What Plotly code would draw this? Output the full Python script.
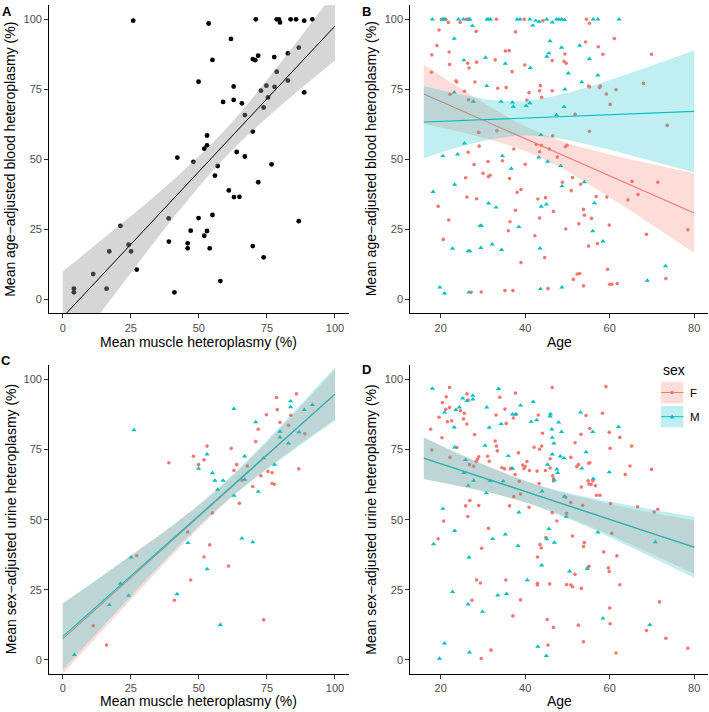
import plotly.graph_objects as go

W, H = 709, 712
def px(v): return v / W
def py(v): return 1 - v / H

F_COL = '#F8766D'
M_COL = '#00BFC4'
F_FILL = 'rgba(248,118,109,0.25)'
M_FILL = 'rgba(0,191,196,0.25)'
A_FILL = 'rgba(153,153,153,0.4)'

# ---------------- Panel A data ----------------
a_muscle = [25.9,53.6,70.9,78.6,79.4,79.8,83.7,85.7,88.7,91.7,
            61.8,55,69.8,70.7,71.8,77.7,82.7,86.7,
            49.9,62.8,72.8,74.8,77.8,78.6,82.7,88.7,
            58.9,62.8,65.8,75.4,73.8,66.9,69.8,
            53,53,52,42.1,48,56.9,63.9,66.9,76.7,
            55.9,71.8,61,62.9,64.9,
            38.9,49.9,55,47,53,52,45.9,45.9,54,39,69.8,73.8,86.7,
            21.2,24.2,17.1,25.1,27.2,11.2,16.1,4.1,4.1,57.9,41]
a_blood = [99.5,98.5,100,100,100,98.9,100,100,99.5,100,
           93,85.5,85.8,85.4,87,86.5,87.8,89.9,
           77.7,76,74.5,76.3,75.9,81.3,78.1,73.9,
           70.5,71.2,70,72.1,68.5,65.8,59.9,
           58.5,55,53.8,50.6,49.1,47.6,52.6,51,48.2,
           44.2,41.8,38.9,36.5,36.6,
           28.9,29,30.1,24.5,24.4,22.7,20,18.2,18.2,20.6,19,15,27.9,
           26.2,19.5,17.1,17.1,10.6,9,3.8,3.8,2.5,6.5,2.5]
# fitted lm and 95% CI
a_fit_x = [0, 20, 40, 60, 80, 100]
a_fit_y = [-6.4, 14.4, 35.2, 56.0, 76.8, 97.6]
a_fit_hi = [9.9, 25.8, 42.1, 60.9, 84.5, 109.9]
a_fit_lo = [-22.7, 3.0, 28.3, 51.1, 69.1, 85.3]

# ---------------- Panel B data ----------------
b_f_age = [20.2,20.6,21.2,26.1,26.5,33.2,39.8,54.5,21.8,24.6,44.2,55.2,19.6,28.4,37.7,
           17.9,19.1,22.0,22.1,26.4,26.7,28.5,32.9,35.3,36.2,36.9,39.9,46.4,49.4,49.2,49.7,54.3,57.3,58.4,61.1,69.9,
           17.8,23.6,23.8,28.1,35.5,25.6,22.2,26.6,40.4,40.9,43.4,43.6,43.9,46.4,55,55.2,57.6,57.8,59.2,60.1,61.5,68,33.5,
           51.8,46.5,33.3,29.0,55.2,73.6,
           29.1,26.5,27.9,30.0,31.2,31.3,31.7,25.9,34.6,37.3,36.3,40.0,42.6,43.4,43.8,45.7,47.6,49.5,49.9,51.2,48.8,53.1,38.1,39,
           19.4,26.2,28.5,37.7,43,44.8,46.7,43.4,50.9,53.8,54.0,56.8,59.3,64.3,65.3,66.7,71.4,
           55.7,59.9,52.7,36.4,36,49.6,21.9,42.3,44.6,39,20.6,57.1,55,68.7,78.5,
           59.5,51.4,52.3,52.9,53.8,60,60.5,61.8,73.3,27.2,29.6,35.2,37.1,45.4]
b_f_val = [100,100,100,100,100,100,100,100,98.9,98.9,99.5,98.6,96.2,95.7,95.5,
           87.3,90.6,88.3,83.9,84.3,82.6,84.7,85.5,88.7,88.8,81.3,83.7,85.3,87.6,85,84.3,91.9,90.2,87.5,93.1,87.5,
           81.1,78,77.6,77.6,75.6,74.3,73.2,71.3,71.2,73.8,74.5,76.3,72.1,74.5,76.2,75.9,75.6,76.2,73.3,69.6,74.8,77.1,75.4,
           66.1,58.4,60.2,59.6,60,62.1,
           54.7,52.5,48.1,45,49.2,43.8,44.3,43.4,49.5,53.7,43.1,48.2,55.3,52.7,55,53.7,50.8,54.5,55,43.5,41.8,41.1,38.2,39.2,
           33.2,36.5,35.9,31.8,35.8,36.3,31.4,29,38.8,32.1,30,36.7,36.5,35.5,42.1,37.4,41.8,
           28.9,26.5,27,27.7,24.5,25.1,28.3,22.7,14.9,13.1,21.4,19.9,19,23.2,24.8,
           10.7,7.1,9,9.2,4.8,5.4,5.4,5.6,7.4,2.5,2.6,3.1,3.1,3.8]
b_m_age = [18.0,20.5,20.9,24.2,25.4,26.7,26.9,31.0,31.3,31.8,38.1,38.8,41.1,45.1,47.4,48.0,48.6,49.3,56.1,57.2,62.2,
           42.5,43.3,46.4,27.5,41.8,
           23.2,25.5,30.6,35.3,41.2,45.9,45.1,45.6,48.6,50.2,52.9,55.2,
           30.9,23.2,27.7,34.3,37,37.2,40.2,41.1,49.4,53.4,57.2,49.2,47.4,43.7,
           18.2,20.5,25.6,24.0,34.6,36.7,43.2,45.3,48.4,48.7,54.0,23.3,
           31.3,33.1,45.0,43.8,56.4,38.5,29.3,29.6,43.5,32.2,34.4,29.5,26.5,26.9,22.8,56,58.4,
           68.9,73.2,19.8,20.9,26.7,43.6,48.7]
b_m_val = [100,100,100,100,100,100,100,100,100,100,100,100,100,100,100,100,100,99.8,100,100,100,
           99.5,99.2,98.9,97.7,97.8,
           93.1,85.4,86.3,84.2,82.7,92.2,86.7,87.9,89.9,80.7,90.6,85.9,
           76.2,73.9,70.6,70.6,70.3,68.8,69.1,70.1,75,77.6,80,68.7,65.8,58.7,
           38.4,51.2,55.7,51.8,51.2,46.7,50.7,49.2,47.7,40.4,41.9,41,
           34.3,32.8,33.9,33.1,34.4,25.9,26.2,26.3,18.2,19.6,17.7,18.4,17.2,17.2,18.1,24.4,20.7,
           6.7,11.9,4.3,2.1,2.5,3.7,4.3]
fit_age = [16, 24, 32, 40, 48, 56, 64, 72, 80]
b_f_fit = [73.3, 68.0, 62.7, 57.4, 52.1, 46.7, 41.4, 36.1, 30.8]
b_f_hi = [83.9, 76.0, 68.5, 61.8, 56.8, 53.2, 50.3, 47.6, 45.0]
b_f_lo = [62.7, 60.0, 56.9, 53.0, 47.4, 40.2, 32.6, 24.6, 16.6]
b_m_fit = [63.3, 63.8, 64.2, 64.7, 65.2, 65.6, 66.1, 66.6, 67.1]
b_m_hi = [76.2, 73.4, 71.2, 70.9, 73.0, 76.4, 80.4, 84.6, 88.9]
b_m_lo = [50.4, 54.2, 57.2, 58.5, 57.4, 54.8, 51.8, 48.6, 45.3]

# ---------------- Panel C data ----------------
c_f_muscle = [39.0,48,53,51.9,49.9,61.9,63.9,62.9,67.8,65.8,64.9,69.8,72.8,75.4,76.9,76.9,77.7,86.7,71.8,70.9,74.8,78.5,78.8,79.8,82.9,83.8,85.8,88.9,
              55,45.9,54,51.9,60.9,47,41,73.8,27.2,11.2,16.1]
c_f_urine = [70.3,72.6,76.2,71.3,69.6,75.4,69.6,67.5,69.1,64.1,55.8,61.8,65.6,67.2,66.7,62.9,62.6,68.1,82.2,77.8,87.4,93.5,89.2,84.7,83.6,87.2,94.8,80.6,
             52.4,45.6,41,36.7,33.5,28.5,21.3,14.3,37.2,12.2,5.3]
c_m_muscle = [26.2,53,49.9,55,55.9,58.9,56.9,62.9,66.8,66.8,62.9,71.8,77.8,73.8,70.9,79.8,79.8,82.9,83.7,83.7,86.8,88.7,91.7,
              46,53,65.8,69.8,42,57.9,25.1,21.2,24.2,17.1,4.3]
c_m_urine = [81.9,73.3,68.2,66.6,63.9,63.9,60.7,89.5,72.6,64.3,58.6,60,69.6,71.9,84.8,81.4,79.3,77.2,92.2,90.1,81.2,89.1,90.9,
             41.7,32.4,43.3,42,23.5,12.5,36.6,27.2,22.9,19.6,1.8]
c_fit_x = [0, 12.5, 25, 37.5, 50, 62.5, 75, 87.5, 100]
c_f_fit = [7.5, 18.4, 29.3, 40.2, 51.1, 62.0, 72.9, 83.8, 94.7]
c_f_hi = [20.0, 28.5, 37.2, 45.9, 55.2, 65.6, 77.6, 90.4, 103.5]
c_f_lo = [-5.0, 8.3, 21.5, 34.5, 47.0, 58.4, 68.2, 77.2, 85.9]
c_m_fit = [8.3, 19.1, 29.9, 40.7, 51.5, 62.3, 73.1, 83.9, 94.7]
c_m_hi = [20.2, 28.6, 37.2, 45.9, 55.3, 66.1, 78.3, 91.2, 104.2]
c_m_lo = [-3.6, 9.6, 22.6, 35.5, 47.7, 58.5, 67.9, 76.7, 85.2]

# ---------------- Panel D data ----------------
d_f_age = [22.1,17.6,17.9,19.6,20.4,21.2,22.1,21.3,21.6,22.6,20.3,24.7,25.6,25.4,26.2,26.5,26.2,23.8,22.2,28,28.7,29,28.4,27.8,26.8,25.9,26.4,26.9,29,
           20.7,19.4,29.7,31.3,28.5,29.4,27.4,
           33.1,34.0,35.2,35.5,32.9,33.2,33.4,31.1,31.5,34.5,35.1,36.5,36.8,37.6,37.3,38.9,37.7,37.2,37.8,38.4,36.3,39.4,40,39.7,40.9,40.4,41,43.1,42.1,43.4,43.9,44.1,43.3,42.8,44.8,45.9,45.9,46.5,46.7,46.7,46.4,46.4,47.5,49.6,49.8,50.8,50.8,51.8,51.2,52.2,52.6,53.3,53.6,53.2,54.4,55,55.3,54.9,55.1,55.6,56.6,56,55.3,56.9,57.7,53.8,58.6,58.3,59.1,59.9,60.1,60.2,60.5,61.7,62.4,63.7,64.8,65.2,66.6,69.9,70.5,71.4,
           54,54.8,55.1,53.3,50.8,51.2,51.8,49.8,45.8,45.2,46.7,52.6,53.8,60,60.1,59.9,59.7,62.4,68.7,71.8,73.3,78.5,45.4,42.9,42.9,43.5,43.8,42.9,44.9,38.9,37.1,35.4,38.6,29.6,31.9,61.5]
d_f_val = [97.1,82.2,74.8,86.5,91.7,89.3,90,93.8,84.9,85.2,79.2,88.8,87.9,85.9,94.8,92.6,84.1,75.7,72.2,80.3,71.5,72.4,70.7,69,69.6,54.9,51.1,56.8,55,
           49.5,43.2,39.8,46.9,28.5,27.4,21.3,
           87.3,93.6,89.4,84.3,78,76.2,74.5,72.6,70.8,68.5,68.1,68.1,68.3,66.1,58.2,59.1,95.1,86.2,87.6,73.8,54.9,69.5,68.9,68.2,54.4,70.7,67.5,87.3,75.8,75.1,76.2,80.8,62.9,67.3,67.5,68.4,71.7,65.6,64.6,63.8,97.1,52.5,49.5,58,52.3,56.1,72.2,77.4,44.2,68.9,69.6,61.6,55.1,80.4,87.1,70.1,70.3,63.8,62.7,62.5,62.1,63.8,82.5,58.7,58.7,40.4,38.5,87.9,97.4,81.1,75.4,55.7,45.1,37.1,79.3,66.1,69.1,76.2,54.6,67.9,52.7,53.7,
           41.8,32.8,33.4,25.5,26.7,26.1,30.5,26.9,27.1,14.4,11.6,12.4,6.5,18.5,12.9,31.5,32.8,26.8,10.5,20.7,7.7,4.2,5.3,27.3,26.7,41.1,39.9,36.7,43.6,21.4,15.7,28.5,63.7,0.5,3.5,2.5]
d_m_age = [18.0,20.9,23.2,23.6,24.4,25.2,26.2,27.6,27.6,23.3,25.9,25.5,27.8,26.5,20.5,23.3,18.3,26.7,32.3,35.3,22.8,26.5,29.9,20.9,
           30.9,33.7,31.5,34.3,30.5,31.7,30.8,34.8,36,37,37.8,38.9,38.5,37,41.4,41.9,42.7,45.3,44.0,45.9,46.0,46.3,46.4,46.8,46.4,46.9,47.5,47.7,47.9,48.6,48.3,49.2,49.3,49.7,53.1,53.4,54.4,56.1,56,57.2,59.9,62.1,70.8,
           54.7,50.5,58.4,69.5,43,43.9,45.1,45.6,46.9,40.5,33.5,35.6,38.3,19.7,26.8,45.0]
d_m_val = [96.7,88.2,82.9,89.1,90,93.2,92.3,92.9,94.2,75.8,71.3,66.7,63.9,62.1,53.9,46,41.3,36.6,43.2,44.8,24.3,19.8,17.2,5.9,
           90,96.6,82.8,84.1,76.4,63.8,59.5,63.7,72.7,87.5,87.5,90.7,52.6,68.2,84.9,92,85.5,69.6,60.1,86.8,87.6,82.2,79.2,77.2,73.3,64.1,67.9,66.7,84.7,81.3,72.6,71.9,58.2,51.1,88.2,68.3,74.1,64.6,81.3,45.5,66.9,83.1,42,
           32.5,31.6,14.8,12.5,4.8,33.7,43.1,46.7,41.8,28.5,23,23.6,40.7,0.5,2.7,1.5]
d_f_fit = [72.0, 68.0, 64.1, 60.1, 56.1, 52.2, 48.2, 44.2, 40.3]
d_f_hi = [79.3, 73.8, 68.6, 63.9, 60.0, 57.0, 54.3, 51.9, 49.7]
d_f_lo = [64.5, 62.0, 59.4, 56.1, 52.0, 47.2, 41.9, 36.3, 30.7]
d_m_fit = [71.9, 67.9, 64.0, 60.0, 56.0, 52.1, 48.1, 44.1, 40.2]
d_m_hi = [79.3, 73.6, 68.4, 63.8, 60.3, 57.6, 55.3, 53.1, 51.1]
d_m_lo = [64.5, 62.2, 59.6, 56.2, 51.7, 46.6, 40.9, 35.1, 29.3]

fig = go.Figure()

def ribbon(xa, ya, xs, lo, hi, fill):
    fig.add_trace(go.Scatter(x=xs, y=lo, mode='lines', line=dict(width=0, shape='spline'),
                             xaxis=xa, yaxis=ya, showlegend=False, hoverinfo='skip'))
    fig.add_trace(go.Scatter(x=xs, y=hi, mode='lines', line=dict(width=0, shape='spline'),
                             fill='tonexty', fillcolor=fill,
                             xaxis=xa, yaxis=ya, showlegend=False, hoverinfo='skip'))

def fitline(xa, ya, xs, ys, col, w=1.1):
    fig.add_trace(go.Scatter(x=xs, y=ys, mode='lines', line=dict(color=col, width=w),
                             xaxis=xa, yaxis=ya, showlegend=False))

def pts(xa, ya, xs, ys, col, sym, size):
    fig.add_trace(go.Scatter(x=xs, y=ys, mode='markers',
                             marker=dict(color=col, symbol=sym, size=size, line=dict(width=0)),
                             xaxis=xa, yaxis=ya, showlegend=False))

# Panel A
pts('x', 'y', a_muscle, a_blood, 'black', 'circle', 4.8)
ribbon('x', 'y', a_fit_x, a_fit_lo, a_fit_hi, A_FILL)
fitline('x', 'y', a_fit_x, a_fit_y, 'black', 1)

# Panel B
pts('x2', 'y2', b_f_age, b_f_val, F_COL, 'circle', 3.6)
pts('x2', 'y2', b_m_age, b_m_val, M_COL, 'triangle-up', 4.6)
ribbon('x2', 'y2', fit_age, b_f_lo, b_f_hi, F_FILL)
fitline('x2', 'y2', fit_age, b_f_fit, F_COL)
ribbon('x2', 'y2', fit_age, b_m_lo, b_m_hi, M_FILL)
fitline('x2', 'y2', fit_age, b_m_fit, M_COL)

# Panel C
pts('x3', 'y3', c_f_muscle, c_f_urine, F_COL, 'circle', 3.6)
pts('x3', 'y3', c_m_muscle, c_m_urine, M_COL, 'triangle-up', 4.6)
ribbon('x3', 'y3', c_fit_x, c_f_lo, c_f_hi, F_FILL)
fitline('x3', 'y3', c_fit_x, c_f_fit, F_COL)
ribbon('x3', 'y3', c_fit_x, c_m_lo, c_m_hi, M_FILL)
fitline('x3', 'y3', c_fit_x, c_m_fit, M_COL)

# Panel D
pts('x4', 'y4', d_f_age, d_f_val, F_COL, 'circle', 3.6)
pts('x4', 'y4', d_m_age, d_m_val, M_COL, 'triangle-up', 4.6)
ribbon('x4', 'y4', fit_age, d_f_lo, d_f_hi, F_FILL)
fitline('x4', 'y4', fit_age, d_f_fit, F_COL)
ribbon('x4', 'y4', fit_age, d_m_lo, d_m_hi, M_FILL)
fitline('x4', 'y4', fit_age, d_m_fit, M_COL)

FONT = 'Liberation Sans, Arial, sans-serif'
tickfont = dict(family=FONT, size=11, color='#4D4D4D')

def ax(domain, rng, tickvals, anchor):
    return dict(domain=domain, range=rng, tickvals=tickvals, anchor=anchor,
                showline=True, linecolor='black', linewidth=1, ticks='outside',
                ticklen=4, tickwidth=1, tickcolor='#333333', showgrid=False,
                zeroline=False, tickfont=tickfont, fixedrange=True)

xl = [px(49.1), px(348.6)]
xr = [px(410.3), px(707.7)]
yt = [py(313.3), py(5.3)]
yb = [py(674.0), py(365.3)]
pct = [0, 25, 50, 75, 100]
ages = [20, 40, 60, 80]

fig.update_layout(
    width=W, height=H, margin=dict(l=0, r=0, t=0, b=0),
    paper_bgcolor='white', plot_bgcolor='white', showlegend=False,
    xaxis=ax(xl, [-5, 105], pct, 'y'),
    yaxis=ax(yt, [-5, 105], pct, 'x'),
    xaxis2=ax(xr, [12.8, 83.2], ages, 'y2'),
    yaxis2=ax(yt, [-5, 105], pct, 'x2'),
    xaxis3=ax(xl, [-5, 105], pct, 'y3'),
    yaxis3=ax(yb, [-5, 105], pct, 'x3'),
    xaxis4=ax(xr, [12.8, 83.2], ages, 'y4'),
    yaxis4=ax(yb, [-5, 105], pct, 'x4'),
)

ann = []
def text(x, y, t, size=14, angle=0, bold=False, xanchor='center'):
    ann.append(dict(x=px(x), y=py(y), xref='paper', yref='paper', text=('<b>%s</b>' % t) if bold else t,
                    showarrow=False, textangle=angle, xanchor=xanchor, yanchor='middle',
                    font=dict(family=FONT, size=size, color='black')))

text(198.9, 341.5, 'Mean muscle heteroplasmy (%)')
text(198.9, 701, 'Mean muscle heteroplasmy (%)')
text(559, 341.5, 'Age')
text(559, 701, 'Age')
text(10.5, 159.3, 'Mean age\u2212adjusted blood heteroplasmy (%)', angle=-90)
text(371, 159.3, 'Mean age\u2212adjusted blood heteroplasmy (%)', angle=-90)
text(10.5, 519.7, 'Mean sex\u2212adjusted urine heteroplasmy (%)', angle=-90)
text(371, 519.7, 'Mean sex\u2212adjusted urine heteroplasmy (%)', angle=-90)
text(6.5, 11, 'A', size=13, bold=True)
text(366.5, 11, 'B', size=13, bold=True)
text(6, 360, 'C', size=13, bold=True)
text(366.5, 369, 'D', size=13, bold=True)

# legend (panel D)
text(660.7, 369.7, 'sex', size=14, xanchor='left')
text(688, 392.5, 'F', size=11.5, xanchor='left')
text(688, 416.8, 'M', size=11.5, xanchor='left')

shapes = []
def rect(x0, y0, x1, y1, fill):
    shapes.append(dict(type='rect', xref='paper', yref='paper', x0=px(x0), x1=px(x1), y0=py(y1), y1=py(y0),
                       fillcolor=fill, line=dict(width=0), layer='above'))
def hline(x0, x1, y, col):
    shapes.append(dict(type='line', xref='paper', yref='paper', x0=px(x0), x1=px(x1), y0=py(y), y1=py(y),
                       line=dict(color=col, width=1), layer='above'))
rect(661, 381.7, 683.3, 403.3, F_FILL)
hline(661, 683.3, 392.5, F_COL)
shapes.append(dict(type='circle', xref='paper', yref='paper', x0=px(670.3), x1=px(673.9), y0=py(394.3), y1=py(390.7),
                   fillcolor=F_COL, line=dict(width=0), layer='above'))
rect(661, 406, 683.3, 427.3, M_FILL)
hline(661, 683.3, 416.7, M_COL)
tri = 'M %f %f L %f %f L %f %f Z' % (px(672.1), py(414.3), px(674.5), py(418.4), px(669.7), py(418.4))
shapes.append(dict(type='path', xref='paper', yref='paper', path=tri, fillcolor=M_COL,
                   line=dict(width=0), layer='above'))

fig.update_layout(annotations=ann, shapes=shapes)
fig.write_html('out.html', config={'displayModeBar': False, 'staticPlot': True},
               post_script="document.body.style.margin='0';document.body.style.padding='0';"
                           "document.body.style.overflow='hidden';")
